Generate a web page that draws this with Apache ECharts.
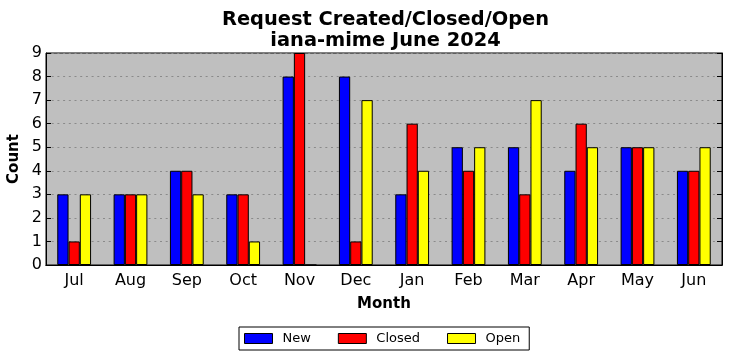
<!DOCTYPE html>
<html><head><meta charset="utf-8">
<script src="https://cdn.jsdelivr.net/npm/echarts@6/dist/echarts.min.js"></script>
<style>html,body{margin:0;padding:0;background:#fff}#c{width:732px;height:361px}</style>
</head><body><div id="c"></div>
<script>
const months = ['Jul','Aug','Sep','Oct','Nov','Dec','Jan','Feb','Mar','Apr','May','Jun'];
const newVals = [3,3,4,3,8,8,3,5,5,4,5,4];
const closedVals = [1,3,4,3,9,1,6,4,3,6,5,4];
const openVals = [3,3,3,1,0,7,4,5,7,5,5,5];
const yTicks = [0,1,2,3,4,5,6,7,8,9];
const titleText = 'Request Created/Closed/Open\niana-mime June 2024';

const font = 'DejaVu Sans';
const chart = echarts.init(document.getElementById('c'), null, {renderer:'canvas'});
const barStyle = c => ({color:c, borderColor:'#000', borderWidth:1});
chart.setOption({
  animation:false,
  textStyle:{fontFamily:font},
  graphic:[{type:'text', x:385.5, y:9, style:{text:titleText, fontFamily:font, fontSize:19.4,
    fontWeight:'bold', fill:'#000', align:'center', verticalAlign:'top', lineHeight:21.5}}],
  legend:{top:327, left:239, itemWidth:28, itemHeight:10, itemGap:27, icon:'rect',
    borderColor:'#000', borderWidth:1, borderRadius:0, padding:[5,9,5,5],
    itemStyle:{borderColor:'#000', borderWidth:1},
    textStyle:{fontFamily:font, fontSize:13, color:'#000', padding:[0,0,0,5]},
    data:['New','Closed','Open']},
  grid:{left:46, right:10, top:53, bottom:96, outerBoundsMode:'none', containLabel:false,
    backgroundColor:'#bfbfbf', show:true, borderColor:'#000', borderWidth:1},
  xAxis:[{type:'category', data:months, boundaryGap:true,
    name:'Month', nameLocation:'middle', nameGap:32, nameMoveOverlap:false,
    nameTextStyle:{fontFamily:font, fontSize:15, fontWeight:'bold', color:'#000'},
    axisLine:{lineStyle:{color:'#000'}},
    axisTick:{inside:true, alignWithLabel:true, length:5, lineStyle:{color:'#000'}},
    axisLabel:{fontFamily:font, fontSize:16, color:'#000', margin:8}},
   {type:'category', data:months, position:'top', boundaryGap:true,
    axisLine:{lineStyle:{color:'#000'}},
    axisTick:{inside:true, alignWithLabel:true, length:5, lineStyle:{color:'#000'}},
    axisLabel:{show:false}}],
  yAxis:[{type:'value', min:0, max:9, interval:1,
    name:'Count', nameLocation:'middle', nameGap:24, nameRotate:90, nameMoveOverlap:false,
    nameTextStyle:{fontFamily:font, fontSize:15, fontWeight:'bold', color:'#000', verticalAlign:'bottom'},
    axisLine:{show:true, lineStyle:{color:'#000'}},
    axisTick:{show:true, inside:true, length:5, lineStyle:{color:'#000'}},
    axisLabel:{fontFamily:font, fontSize:16, color:'#000', margin:4,
      formatter:v=>yTicks.includes(v)?String(v):''},
    splitLine:{show:true, lineStyle:{color:'#8a8a8a', type:[2,3.7], width:1}}},
   {type:'value', min:0, max:9, interval:1, position:'right',
    axisLine:{show:true, lineStyle:{color:'#000'}},
    axisTick:{show:true, inside:true, length:5, lineStyle:{color:'#000'}},
    axisLabel:{show:false}, splitLine:{show:false}}],
  series:[
    {name:'New', type:'bar', data:newVals, barWidth:'20%', barGap:'0%', itemStyle:barStyle('#0000ff')},
    {name:'Closed', type:'bar', data:closedVals, barWidth:'20%', barGap:'0%', itemStyle:barStyle('#ff0000')},
    {name:'Open', type:'bar', data:openVals, barWidth:'20%', barGap:'0%', itemStyle:barStyle('#ffff00')}
  ]
});
</script></body></html>
